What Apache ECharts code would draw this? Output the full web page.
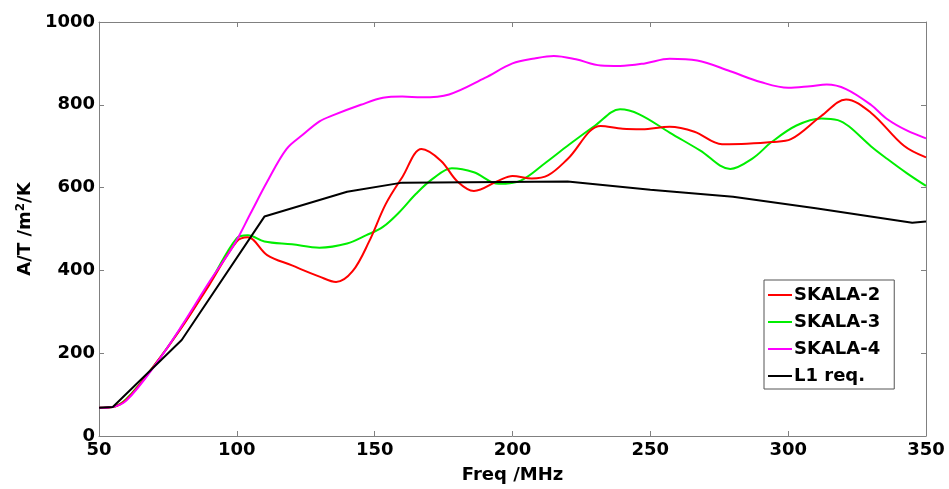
<!DOCTYPE html>
<html>
<head>
<meta charset="utf-8">
<script src="https://cdn.jsdelivr.net/npm/echarts@6/dist/echarts.min.js"></script>
<style>html,body{margin:0;padding:0;background:#fff}#c{width:949px;height:489px}</style>
</head>
<body>
<div id="c"></div>
<script>
var xTicks = [50, 100, 150, 200, 250, 300, 350];
var yTicks = [0, 200, 400, 600, 800, 1000];

var skala2Freq = [50, 55, 60, 70, 80, 90, 100, 104, 111, 120, 130, 136, 142, 148, 154, 160, 167, 174, 180, 186, 195, 200, 207, 213, 220, 232, 240, 247, 257, 266, 276, 285, 294, 301, 312, 321, 330, 342, 350];
var skala2Val  = [68, 70, 88, 170, 262, 365, 470, 480, 437, 412, 385, 372, 398, 470, 560, 625, 693, 665, 615, 592, 617, 628, 622, 630, 669, 749, 742, 741, 747, 735, 705, 706, 710, 717, 773, 813, 781, 701, 673];

var skala3Freq = [50, 55, 60, 70, 80, 90, 100, 104, 110, 120, 130, 140, 147, 153, 159, 165, 171, 178, 186, 195, 203, 212, 220, 230, 239, 246, 257, 268, 279, 287, 294, 303, 312, 318, 322, 330, 336, 343, 350];
var skala3Val  = [68, 70, 90, 170, 264, 368, 478, 485, 470, 463, 455, 465, 485, 505, 541, 585, 621, 647, 637, 609, 617, 660, 701, 750, 789, 777, 733, 690, 645, 670, 710, 750, 767, 763, 748, 700, 669, 635, 604];

var skala4Freq = [50, 55, 60, 70, 80, 90, 99, 105, 111, 118, 124, 130, 135, 145, 153, 160, 167, 177, 190, 200, 208, 215, 223, 232, 239, 248, 257, 267, 279, 290, 300, 308, 314, 321, 330, 336, 343, 350];
var skala4Val  = [68, 70, 86, 168, 266, 372, 462, 538, 614, 693, 728, 760, 775, 800, 817, 820, 818, 825, 865, 900, 912, 918, 910, 895, 894, 900, 911, 907, 881, 855, 841, 845, 849, 838, 800, 765, 738, 719];

var l1Freq = [50, 55, 80, 110, 140, 160, 220, 250, 280, 310, 345, 350];
var l1Val  = [68, 70, 232, 530, 590, 612, 615, 595, 578, 550, 515, 518];

function pairs(fx, vy) { return fx.map(function (f, i) { return [f, vy[i]]; }); }

var chart = echarts.init(document.getElementById('c'));
var font = '"DejaVu Sans", "Liberation Sans", Arial, sans-serif';
var boxCol = '#808080';
function plain(v) { return String(v); }

function axisCommon(extra) {
  var a = {
    type: 'value',
    axisLine: { show: true, onZero: false, lineStyle: { color: boxCol, width: 1 } },
    axisTick: { show: true, inside: true, length: 5, lineStyle: { color: boxCol } },
    splitLine: { show: false },
    axisLabel: { color: '#000', fontWeight: 'bold', fontSize: 18, fontFamily: font, formatter: plain }
  };
  for (var k in extra) a[k] = extra[k];
  return a;
}

chart.setOption({
  animation: false,
  backgroundColor: '#fff',
  grid: { left: 99, right: 23, top: 22, bottom: 50, show: false },
  legend: {
    orient: 'vertical',
    left: 764, top: 280,
    padding: [5, 14, 3, 4],
    itemGap: 7,
    itemWidth: 24, itemHeight: 2,
    icon: 'rect',
    backgroundColor: '#fff',
    borderColor: '#555', borderWidth: 1,
    textStyle: { color: '#000', fontWeight: 'bold', fontSize: 18, fontFamily: font, lineHeight: 20, padding: [0, 0, 0, -3] },
    data: ['SKALA-2', 'SKALA-3', 'SKALA-4', 'L1 req.']
  },
  xAxis: [
    axisCommon({
      position: 'bottom', min: xTicks[0], max: xTicks[xTicks.length - 1], interval: 50,
      name: 'Freq /MHz', nameLocation: 'middle', nameGap: 30,
      nameTextStyle: { color: '#000', fontWeight: 'bold', fontSize: 18, fontFamily: font },
      axisLabel: { color: '#000', fontWeight: 'bold', fontSize: 18, fontFamily: font, margin: 5, formatter: plain }
    }),
    axisCommon({
      position: 'top', min: xTicks[0], max: xTicks[xTicks.length - 1], interval: 50,
      axisLabel: { show: false }
    })
  ],
  yAxis: [
    axisCommon({
      position: 'left', min: yTicks[0], max: yTicks[yTicks.length - 1], interval: 200,
      name: 'A/T /m{sup|2}/K', nameLocation: 'middle', nameGap: 56,
      nameTextStyle: {
        color: '#000', fontWeight: 'bold', fontSize: 18, fontFamily: font,
        rich: { sup: { fontSize: 12, fontWeight: 'bold', color: '#000', fontFamily: font, verticalAlign: 'bottom', padding: [0, 0, 8, 0] } }
      },
      axisLabel: { color: '#000', fontWeight: 'bold', fontSize: 18, fontFamily: font, margin: 4, formatter: plain }
    }),
    axisCommon({
      position: 'right', min: yTicks[0], max: yTicks[yTicks.length - 1], interval: 200,
      axisLabel: { show: false }
    })
  ],
  series: [
    { name: 'SKALA-2', type: 'line', smooth: 0.35, symbol: 'none', data: pairs(skala2Freq, skala2Val), lineStyle: { color: '#ff0000', width: 2 }, itemStyle: { color: '#ff0000' }, z: 3 },
    { name: 'SKALA-3', type: 'line', smooth: 0.35, symbol: 'none', data: pairs(skala3Freq, skala3Val), lineStyle: { color: '#00ee00', width: 2 }, itemStyle: { color: '#00ee00' }, z: 2 },
    { name: 'SKALA-4', type: 'line', smooth: 0.35, symbol: 'none', data: pairs(skala4Freq, skala4Val), lineStyle: { color: '#ff00ff', width: 2 }, itemStyle: { color: '#ff00ff' }, z: 4 },
    { name: 'L1 req.', type: 'line', smooth: false, symbol: 'none', data: pairs(l1Freq, l1Val), lineStyle: { color: '#000000', width: 2 }, itemStyle: { color: '#000000' }, z: 5 }
  ]
});
</script>
</body>
</html>
